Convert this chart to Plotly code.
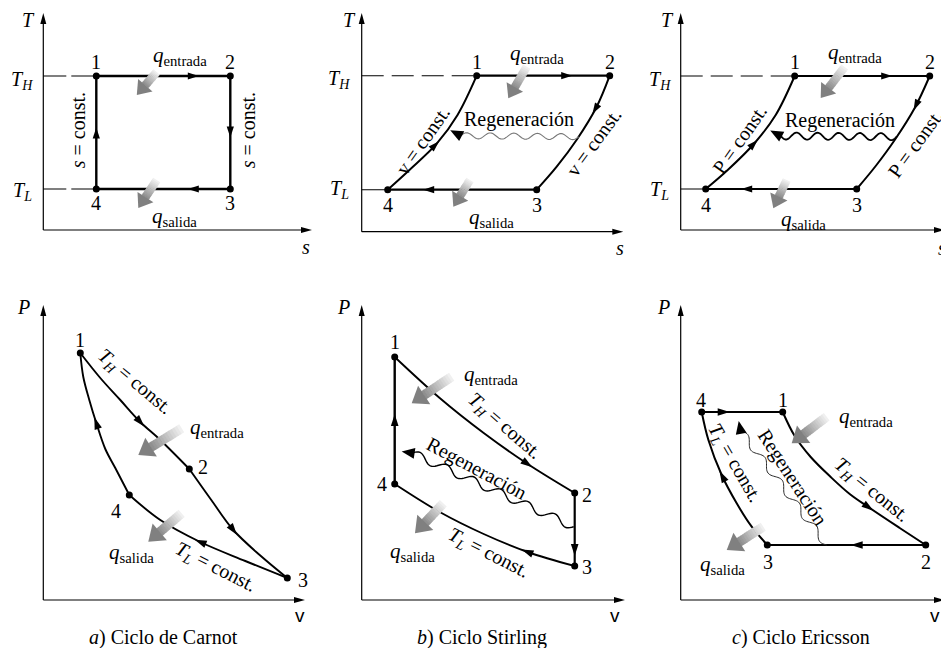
import math
import plotly.graph_objects as go

W, H = 949, 648
PX = 10.0  # pixels per chart unit on both axes (keeps shapes isotropic)
OFF = 8.0  # page body margin in the browser

# ======================= DATA (chart units) =======================
# a) Carnot cycle, T-s   (states 1,2,3,4)
A_TS_S = [5.3, 18.7, 18.7, 5.3]
A_TS_T = [15.4, 15.4, 4.1, 4.1]
# b) Stirling cycle, T-s
B_TS_S = [11.5, 24.8, 17.5, 2.6]
B_TS_T = [15.6, 15.6, 4.2, 4.2]
B_TS_23_S = [24.8, 23.5, 21.5, 19.5, 17.5]
B_TS_23_T = [15.6, 12.5, 9.2, 6.5, 4.2]
B_TS_41_S = [2.6, 4.8, 7.5, 9.6, 11.5]
B_TS_41_T = [4.2, 6.2, 8.8, 11.7, 15.6]
# c) Ericsson cycle, T-s
C_TS_S = [11.4, 24.9, 17.6, 2.5]
C_TS_T = [15.4, 15.4, 4.1, 4.1]
C_TS_23_S = [24.9, 23.4, 21.4, 19.5, 17.6]
C_TS_23_T = [15.4, 12.2, 9.0, 6.4, 4.1]
C_TS_41_S = [2.5, 4.7, 7.4, 9.5, 11.4]
C_TS_41_T = [4.1, 6.0, 8.7, 11.5, 15.4]
# a) Carnot cycle, P-v
A_PV_V = [3.7, 14.6, 24.4, 8.6]
A_PV_P = [24.7, 13.1, 2.2, 10.5]
A_PV_12_V = [3.7, 5.7, 7.7, 9.7, 11.7, 14.6]
A_PV_12_P = [24.7, 22.2, 20.0, 17.8, 16.0, 13.1]
A_PV_23_V = [14.6, 16.8, 19.0, 21.7, 24.4]
A_PV_23_P = [13.1, 10.0, 7.0, 4.45, 2.2]
A_PV_34_V = [24.4, 20.2, 15.7, 11.7, 8.6]
A_PV_34_P = [2.2, 3.9, 5.8, 8.0, 10.5]
A_PV_41_V = [8.6, 7.2, 6.2, 5.3, 4.6, 4.0, 3.7]
A_PV_41_P = [10.5, 13.2, 15.1, 17.7, 20.0, 22.3, 24.7]
# b) Stirling cycle, P-v
B_PV_V = [3.3, 21.3, 21.3, 3.3]
B_PV_P = [24.3, 10.7, 3.4, 11.6]
B_PV_12_V = [3.3, 7.8, 12.2, 16.6, 21.3]
B_PV_12_P = [24.3, 20.2, 16.7, 13.6, 10.7]
B_PV_34_V = [21.3, 16.6, 12.2, 7.8, 3.3]
B_PV_34_P = [3.4, 4.8, 6.6, 8.8, 11.6]
# c) Ericsson cycle, P-v
C_PV_V = [10.2, 24.5, 8.66, 2.1]
C_PV_P = [18.8, 5.5, 5.5, 18.8]
C_PV_12_V = [10.2, 11.4, 13.0, 15.0, 16.9, 18.9, 21.9, 24.5]
C_PV_12_P = [18.8, 16.4, 14.3, 12.3, 10.6, 9.2, 7.2, 5.5]
C_PV_34_V = [8.66, 7.1, 5.6, 4.1, 2.77, 2.1]
C_PV_34_P = [5.5, 7.33, 9.67, 12.5, 16.0, 18.8]

STATE_LABELS = ["1", "2", "3", "4"]
CAPTIONS = ["<i>a</i>) Ciclo de Carnot", "<i>b</i>) Ciclo Stirling", "<i>c</i>) Ciclo Ericsson"]
Q_IN = "<i>q</i><sub>entrada</sub>"
Q_OUT = "<i>q</i><sub>salida</sub>"

# ======================= LAYOUT / GEOMETRY =======================
FRAMES = [  # axis origin and arrow tips, in page pixels
    dict(x0=43.3, y0=230.0, xt=312.0, yt=13.0),
    dict(x0=361.7, y0=231.7, xt=623.3, yt=13.0),
    dict(x0=680.7, y0=230.0, xt=945.0, yt=13.0),
    dict(x0=43.3, y0=600.0, xt=305.0, yt=305.0),
    dict(x0=361.7, y0=600.0, xt=625.0, yt=305.0),
    dict(x0=680.7, y0=600.0, xt=945.0, yt=305.0),
]
for f in FRAMES:
    for k in f:
        f[k] -= OFF
PAD_L, PAD_R, PAD_B, PAD_T = 3.0, 0.3, 4.5, 0.4
FONT = "Liberation Serif, Times New Roman, Tinos, DejaVu Serif, serif"
SANS = "Liberation Sans, Arial, sans-serif"

fig = go.Figure()
shapes, annos = [], []


def refs(i):
    return ("x", "y") if i == 0 else (f"x{i+1}", f"y{i+1}")


def ext(i):
    f = FRAMES[i]
    return (f["xt"] - f["x0"]) / PX, (f["y0"] - f["yt"]) / PX


def path_of(pts, close=True):
    s = "M " + " L ".join(f"{x:.3f},{y:.3f}" for x, y in pts)
    return s + (" Z" if close else "")


def tri(i, x, y, ux, uy, L=1.0, hw=0.35, color="black", center=True):
    if center:
        tx, ty = x + ux * L * 0.5, y + uy * L * 0.5
    else:
        tx, ty = x, y
    bx, by = tx - ux * L, ty - uy * L
    nx, ny = -uy, ux
    xr, yr = refs(i)
    shapes.append(dict(type="path", xref=xr, yref=yr, layer="above",
                       path=path_of([(tx, ty), (bx + nx * hw, by + ny * hw), (bx - nx * hw, by - ny * hw)]),
                       fillcolor=color, line=dict(width=0)))


def line(i, x0, y0, x1, y1, width=1.2, dash=None, color="black"):
    xr, yr = refs(i)
    d = dict(color=color, width=width)
    if dash:
        d["dash"] = dash
    shapes.append(dict(type="line", xref=xr, yref=yr, x0=x0, y0=y0, x1=x1, y1=y1, line=d, layer="above"))


def text(i, x, y, t, size=20, angle=0, xanchor="center", yanchor="middle", family=FONT):
    xr, yr = refs(i)
    annos.append(dict(x=x, y=y, xref=xr, yref=yr, text=t, showarrow=False, textangle=angle,
                      xanchor=xanchor, yanchor=yanchor, font=dict(family=family, size=size, color="black")))


# ---- axes ----
for i, f in enumerate(FRAMES):
    Lx, Ly = ext(i)
    xd = [max(0, (f["x0"] - PAD_L * PX) / W), min(1, (f["xt"] + PAD_R * PX) / W)]
    yd = [max(0, (H - (f["y0"] + PAD_B * PX)) / H), min(1, (H - (f["yt"] - PAD_T * PX)) / H)]
    xa = dict(domain=xd, range=[(xd[0] * W - f["x0"]) / PX, (xd[1] * W - f["x0"]) / PX],
              visible=False, fixedrange=True, anchor=refs(i)[1])
    ya = dict(domain=yd, range=[(yd[0] * H - (H - f["y0"])) / PX, (yd[1] * H - (H - f["y0"])) / PX],
              visible=False, fixedrange=True, anchor=refs(i)[0])
    key = "" if i == 0 else str(i + 1)
    fig.layout["xaxis" + key] = xa
    fig.layout["yaxis" + key] = ya
    line(i, 0, 0, Lx - 0.8, 0, width=1.2)
    line(i, 0, 0, 0, Ly - 0.8, width=1.2)
    tri(i, Lx, 0, 1, 0, L=1.1, hw=0.3, center=False)
    tri(i, 0, Ly, 0, 1, L=1.1, hw=0.3, center=False)

# ---- curves ----
CURVES = {i: [] for i in range(6)}


def curve(i, xs, ys, width=2.2, smooth=False):
    xr, yr = refs(i)
    fig.add_trace(go.Scatter(x=xs, y=ys, mode="lines", xaxis=xr, yaxis=yr, hoverinfo="skip",
                             showlegend=False,
                             line=dict(color="black", width=width,
                                       shape="spline" if smooth else "linear", smoothing=1.0)))
    CURVES[i].append((list(xs), list(ys)))


def points(i, xs, ys):
    xr, yr = refs(i)
    fig.add_trace(go.Scatter(x=xs, y=ys, mode="markers", xaxis=xr, yaxis=yr, hoverinfo="skip",
                             showlegend=False, marker=dict(color="black", size=7)))


def seg(xs, ys, a, b):
    return [xs[a], xs[b]], [ys[a], ys[b]]


# a) T-s
for a, b in [(0, 1), (1, 2), (2, 3), (3, 0)]:
    curve(0, *seg(A_TS_S, A_TS_T, a, b), width=2.4)
# b) T-s
curve(1, *seg(B_TS_S, B_TS_T, 0, 1), width=2.2)
curve(1, B_TS_23_S, B_TS_23_T, width=2.0, smooth=True)
curve(1, *seg(B_TS_S, B_TS_T, 2, 3), width=2.2)
curve(1, B_TS_41_S, B_TS_41_T, width=2.0, smooth=True)
# c) T-s
curve(2, *seg(C_TS_S, C_TS_T, 0, 1), width=2.2)
curve(2, C_TS_23_S, C_TS_23_T, width=2.0, smooth=True)
curve(2, *seg(C_TS_S, C_TS_T, 2, 3), width=2.2)
curve(2, C_TS_41_S, C_TS_41_T, width=2.0, smooth=True)
# a) P-v
curve(3, A_PV_12_V, A_PV_12_P, width=1.9, smooth=True)
curve(3, A_PV_23_V, A_PV_23_P, width=1.9, smooth=True)
curve(3, A_PV_34_V, A_PV_34_P, width=1.9, smooth=True)
curve(3, A_PV_41_V, A_PV_41_P, width=1.9, smooth=True)
# b) P-v
curve(4, B_PV_12_V, B_PV_12_P, width=1.9, smooth=True)
curve(4, *seg(B_PV_V, B_PV_P, 1, 2), width=2.2)
curve(4, B_PV_34_V, B_PV_34_P, width=1.9, smooth=True)
curve(4, *seg(B_PV_V, B_PV_P, 3, 0), width=2.4)
# c) P-v
curve(5, C_PV_12_V, C_PV_12_P, width=2.0, smooth=True)
curve(5, *seg(C_PV_V, C_PV_P, 1, 2), width=2.0)
curve(5, C_PV_34_V, C_PV_34_P, width=2.0, smooth=True)
curve(5, *seg(C_PV_V, C_PV_P, 3, 0), width=2.2)

points(0, A_TS_S, A_TS_T)
points(1, B_TS_S, B_TS_T)
points(2, C_TS_S, C_TS_T)
points(3, A_PV_V, A_PV_P)
points(4, B_PV_V, B_PV_P)
points(5, C_PV_V, C_PV_P)

# reference lines T_H / T_L
line(0, 0, A_TS_T[0], A_TS_S[0], A_TS_T[0], width=1.1, dash="23px,5px")
line(0, 0, A_TS_T[3], A_TS_S[3], A_TS_T[3], width=1.1, dash="23px,5px")
line(1, 0, B_TS_T[0], B_TS_S[0], B_TS_T[0], width=1.1, dash="22px,8px")
line(1, 0, B_TS_T[3], B_TS_S[3], B_TS_T[3], width=1.1)
line(2, 0, C_TS_T[0], C_TS_S[0], C_TS_T[0], width=1.1, dash="22px,8px")
line(2, 0, C_TS_T[3], C_TS_S[3], C_TS_T[3], width=1.1)

# ---- direction arrowheads on the processes (snapped to the curve) ----
ARROW_MARKS = [
    (0, 15.0, 15.4), (0, 18.7, 9.8), (0, 15.0, 4.1), (0, 5.3, 9.7),
    (1, 20.5, 15.6), (1, 23.3, 12.3), (1, 6.7, 4.2), (1, 7.3, 8.7),
    (2, 20.6, 15.4), (2, 23.5, 12.5), (2, 6.6, 4.1), (2, 7.3, 8.6),
    (3, 9.7, 17.8), (3, 19.0, 7.0), (3, 15.7, 5.8), (3, 5.3, 17.7),
    (4, 16.7, 13.8), (4, 21.3, 5.0), (4, 16.7, 5.2), (4, 3.3, 18.0),
    (5, 4.3, 18.8), (5, 18.8, 9.3), (5, 17.6, 5.5), (5, 4.2, 12.4),
]


def snap(i, px, py):
    best = None
    for xs, ys in CURVES[i]:
        for k in range(len(xs) - 1):
            ax, ay, bx, by = xs[k], ys[k], xs[k + 1], ys[k + 1]
            dx, dy = bx - ax, by - ay
            L2 = dx * dx + dy * dy
            t = max(0.0, min(1.0, ((px - ax) * dx + (py - ay) * dy) / L2))
            qx, qy = ax + t * dx, ay + t * dy
            d = (qx - px) ** 2 + (qy - py) ** 2
            if best is None or d < best[0]:
                L = math.sqrt(L2)
                best = (d, qx, qy, dx / L, dy / L)
    return best[1:]


for i, x, y in ARROW_MARKS:
    qx, qy, ux, uy = snap(i, x, y)
    big = i >= 3
    tri(i, qx, qy, ux, uy, L=1.1 if not big else 1.2, hw=0.36 if not big else 0.38)

# ---- gradient heat arrows (q) ----
Q_ARROWS = [  # panel, tail, tip
    (0, (11.34, 15.8), (9.35, 13.5)), (0, (11.34, 5.0), (9.5, 2.2)),
    (1, (16.5, 16.5), (14.66, 13.34)), (1, (10.83, 5.17), (9.16, 2.5)),
    (2, (16.4, 16.3), (14.0, 13.2)), (2, (10.6, 5.0), (9.26, 2.17)),
    (3, (13.84, 17.17), (9.5, 14.5)), (3, (13.84, 8.67), (10.5, 5.83)),
    (4, (9.0, 22.33), (5.0, 19.67)), (4, (8.16, 9.67), (5.33, 6.67)),
    (5, (14.6, 18.33), (11.1, 15.67)), (5, (8.26, 7.33), (4.6, 5.0)),
]


def block_arrow(i, tail, tip, shaft, headw, headl, n=12):
    (x0, y0), (x1, y1) = tail, tip
    dx, dy = x1 - x0, y1 - y0
    L = math.hypot(dx, dy)
    ux, uy = dx / L, dy / L
    nx, ny = -uy, ux
    sb = L - headl
    xr, yr = refs(i)
    c0, c1 = (245, 245, 245), (140, 140, 140)
    for k in range(n):
        a, b = sb * k / n, min(sb + 0.05, sb * (k + 1) / n + 0.05)
        t = (k + 0.5) / n
        col = tuple(int(c0[j] + (c1[j] - c0[j]) * t) for j in range(3))
        h = shaft / 2
        pts = [(x0 + ux * a + nx * h, y0 + uy * a + ny * h), (x0 + ux * b + nx * h, y0 + uy * b + ny * h),
               (x0 + ux * b - nx * h, y0 + uy * b - ny * h), (x0 + ux * a - nx * h, y0 + uy * a - ny * h)]
        shapes.append(dict(type="path", xref=xr, yref=yr, path=path_of(pts), layer="above",
                           fillcolor="rgb(%d,%d,%d)" % col, line=dict(width=0)))
    bx, by = x0 + ux * sb, y0 + uy * sb
    hw = headw / 2
    shapes.append(dict(type="path", xref=xr, yref=yr, layer="above",
                       path=path_of([(x1, y1), (bx + nx * hw, by + ny * hw), (bx - nx * hw, by - ny * hw)]),
                       fillcolor="rgb(128,128,128)", line=dict(width=0)))


for i, tail, tip in Q_ARROWS:
    if i < 3:
        block_arrow(i, tail, tip, shaft=0.85, headw=1.9, headl=1.3)
    else:
        block_arrow(i, tail, tip, shaft=0.95, headw=2.2, headl=1.5)

# ---- regeneration wavy lines ----
WAVES = [  # panel, start, end, arrow tip, periods, amplitude, width, color
    (1, (21.7, 9.5), (9.9, 9.6), (8.85, 10.15), 5, 0.3, 1.1, "rgb(120,120,120)"),
    (2, (21.6, 9.33), (10.0, 9.4), (8.95, 9.95), 5.5, 0.35, 1.8, "black"),
    (4, (21.2, 7.33), (5.0, 14.7), (4.0, 14.85), 6, 0.4, 1.4, "black"),
    (5, (14.6, 5.5), (6.0, 16.9), (5.8, 17.9), 5, 0.35, 1.0, "rgb(40,40,40)"),
]
for i, (sx, sy), (ex, ey), (tx, ty), per, amp, wd, col in WAVES:
    dx, dy = ex - sx, ey - sy
    L = math.hypot(dx, dy)
    nx, ny = -dy / L, dx / L
    pts = []
    for k in range(121):
        t = k / 120
        o = amp * math.sin(2 * math.pi * per * t)
        pts.append((sx + dx * t + nx * o, sy + dy * t + ny * o))
    xr, yr = refs(i)
    shapes.append(dict(type="path", xref=xr, yref=yr, path=path_of(pts, close=False), layer="above",
                       line=dict(color=col, width=wd)))
    adx, ady = tx - ex, ty - ey
    aL = math.hypot(adx, ady)
    tri(i, tx, ty, adx / aL, ady / aL, L=1.3, hw=0.55, center=False)

# ---- texts ----
AXIS_TEXT = [  # panel, x, y, text
    (0, -1.5, 21.0, "<i>T</i>"), (0, 26.3, -1.7, "<i>s</i>"),
    (1, -1.2, 21.2, "<i>T</i>"), (1, 25.8, -1.6, "<i>s</i>"),
    (2, -1.3, 21.0, "<i>T</i>"), (2, 26.1, -1.8, "<i>s</i>"),
    (3, -2.0, 29.3, "<i>P</i>"), (4, -1.8, 29.3, "<i>P</i>"), (5, -1.7, 29.3, "<i>P</i>"),
    (0, -2.1, 15.0, "<i>T<sub>H</sub></i>"), (0, -2.1, 3.9, "<i>T<sub>L</sub></i>"),
    (1, -2.3, 15.2, "<i>T<sub>H</sub></i>"), (1, -2.2, 4.2, "<i>T<sub>L</sub></i>"),
    (2, -2.1, 15.0, "<i>T<sub>H</sub></i>"), (2, -2.1, 4.0, "<i>T<sub>L</sub></i>"),
]
for i, x, y, t in AXIS_TEXT:
    text(i, x, y, t, size=20)
for i, x in [(3, 25.7), (4, 25.3), (5, 25.4)]:
    text(i, x, -1.5, "v", size=19, family=SANS)

STATE_POS = [
    (0, [(5.3, 16.8), (18.7, 16.8), (18.7, 2.7), (5.3, 2.7)]),
    (1, [(11.5, 17.0), (24.8, 17.0), (17.5, 2.7), (2.6, 2.7)]),
    (2, [(11.4, 16.8), (24.9, 16.8), (17.6, 2.5), (2.5, 2.5)]),
    (3, [(3.7, 26.0), (16.0, 13.3), (26.0, 2.0), (7.3, 8.9)]),
    (4, [(3.3, 25.8), (22.5, 10.5), (22.5, 3.3), (2.0, 11.6)]),
    (5, [(10.2, 20.0), (24.5, 3.8), (8.7, 3.8), (2.0, 20.0)]),
]
for i, pos in STATE_POS:
    for lab, (x, y) in zip(STATE_LABELS, pos):
        text(i, x, y, lab, size=20)

Q_TEXT = [
    (0, 13.7, 17.4, 13.1, 1.3), (1, 17.5, 17.8, 13.0, 1.4), (2, 17.4, 17.7, 12.3, 1.0),
    (3, 17.4, 17.2, 8.8, 4.7), (4, 12.9, 22.5, 5.1, 4.8), (5, 18.5, 18.3, 4.2, 3.5),
]
for i, xi, yi, xo, yo in Q_TEXT:
    text(i, xi, yi, Q_IN, size=21)
    text(i, xo, yo, Q_OUT, size=21)

PROC_TEXT = [  # panel, x, y, text, angle
    (0, 3.5, 10.0, "<i>s</i> = const.", -90), (0, 20.5, 10.0, "<i>s</i> = const.", -90),
    (1, 6.1, 9.2, "v = const.", -55), (1, 23.2, 9.0, "v = const.", -54),
    (2, 5.9, 9.1, "P = const.", -55), (2, 23.5, 8.7, "P = const.", -54),
    (1, 15.75, 11.2, "Regeneración", 0), (2, 15.9, 11.0, "Regeneración", 0),
    (3, 9.2, 21.8, "<i>T<sub>H</sub></i> = const.", 40), (3, 17.2, 3.3, "<i>T<sub>L</sub></i> = const.", 27),
    (4, 14.3, 17.4, "<i>T<sub>H</sub></i> = const.", 41), (4, 12.7, 4.7, "<i>T<sub>L</sub></i> = const.", 27),
    (4, 11.5, 13.2, "Regeneración", 28),
    (5, 19.1, 11.0, "<i>T<sub>H</sub></i> = const.", 39), (5, 5.4, 13.7, "<i>T<sub>L</sub></i> = const.", 60),
    (5, 11.2, 12.3, "Regeneración", 57),
]
for i, x, y, t, ang in PROC_TEXT:
    text(i, x, y, t, size=20, angle=ang)

for k, cap in enumerate(CAPTIONS):
    i = 3 + k
    text(i, 12.0, -3.7, cap, size=20)

fig.update_layout(width=W, height=H, margin=dict(l=0, r=0, t=0, b=0),
                  paper_bgcolor="white", plot_bgcolor="rgba(0,0,0,0)",
                  font=dict(family=FONT, size=20, color="black"),
                  shapes=shapes, annotations=annos, showlegend=False)
fig.write_html("out.html")
